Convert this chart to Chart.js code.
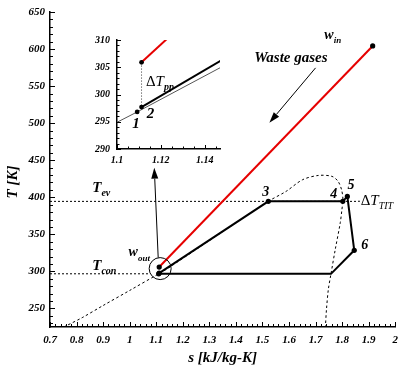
<!DOCTYPE html>
<html>
<head>
<meta charset="utf-8">
<script src="https://cdn.jsdelivr.net/npm/chart.js@4.4.0/dist/chart.umd.min.js"></script>
<style>
  html, body { margin: 0; padding: 0; background: #fff; }
  #wrap { position: relative; width: 405px; height: 365px; }
  #main { position: absolute; left: 0; top: 0; }
  #inset { position: absolute; left: 60px; top: 25px; }
</style>
</head>
<body>
<div id="wrap">
  <canvas id="main" width="405" height="365"></canvas>
  <canvas id="inset" width="170" height="150"></canvas>
</div>
<script>
// cycle state points 1..7 (s in kJ/kg-K, T in K)
const stateS = [1.1092, 1.1112, 1.522, 1.8026, 1.8196, 1.8456, 1.758];
const stateT = [296.8, 297.7, 394.5, 394.5, 401.2, 328.5, 296.7];

// waste gas stream: w_out -> w_in
const gasS = [1.1112, 1.915];
const gasT = [305.9, 604.2];

// saturation dome
const domeS = [0.752, 0.821, 0.9, 1.0, 1.1092, 1.147, 1.522, 1.589, 1.651, 1.711, 1.762, 1.785, 1.798, 1.803, 1.799, 1.793, 1.774, 1.758, 1.748, 1.741, 1.737];
const domeT = [225, 237.6, 254, 274.3, 296.8, 304.9, 394.5, 408, 423.7, 429.5, 428.2, 421.4, 410, 397, 383, 365.8, 329.4, 296.7, 275.5, 248.6, 225];

// evaporation / condensation temperatures
const Tev = 394.5;
const Tcon = 296.8;
const evLineS = [0.7, 1.867];
const conLineS = [0.7, 1.077];

const pts = (xs, ys) => xs.map((v, i) => ({ x: v, y: ys[i] }));
const pick = (idx) => idx.map(i => ({ x: stateS[i], y: stateT[i] }));

const heating = pick([1, 2, 3, 4]);        // 2-3-4-5
const rest = pick([4, 5, 6, 0, 1]);        // 5-6-7-1-2
const dots = pick([0, 1, 2, 3, 4, 5]).concat(pts(gasS, gasT));

const serif = '"Liberation Serif", "Times New Roman", serif';
const BI = (n) => 'bold italic ' + n + 'px ' + serif;
const IT = (n) => 'italic ' + n + 'px ' + serif;
const RG = (n) => n + 'px ' + serif;

function line(data, color, width, dash) {
  return { data: data, showLine: true, borderColor: color, borderWidth: width,
           borderDash: dash || [], pointRadius: 0, tension: 0, fill: false };
}

function richText(ctx, x, y, parts) {
  let cx = x;
  parts.forEach(([t, f, dy]) => {
    ctx.font = f;
    ctx.fillText(t, cx, y + (dy || 0));
    cx += ctx.measureText(t).width;
  });
}

function arrow(ctx, x1, y1, x2, y2) {
  const a = Math.atan2(y2 - y1, x2 - x1);
  const L = 11, W = 3.5;
  ctx.beginPath();
  ctx.moveTo(x1, y1);
  ctx.lineTo(x2 - L * Math.cos(a), y2 - L * Math.sin(a));
  ctx.stroke();
  ctx.beginPath();
  ctx.moveTo(x2, y2);
  ctx.lineTo(x2 - L * Math.cos(a) + W * Math.sin(a), y2 - L * Math.sin(a) - W * Math.cos(a));
  ctx.lineTo(x2 - L * Math.cos(a) - W * Math.sin(a), y2 - L * Math.sin(a) + W * Math.cos(a));
  ctx.closePath();
  ctx.fill();
}

function inwardTicks(chart, xs, ys, big, small) {
  const { ctx, chartArea: a, scales: { x, y } } = chart;
  ctx.save();
  ctx.strokeStyle = '#000';
  ctx.lineWidth = 1;
  ctx.beginPath();
  xs.forEach(([v, maj]) => {
    const p = Math.round(x.getPixelForValue(v)) + 0.5;
    ctx.moveTo(p, a.bottom);
    ctx.lineTo(p, a.bottom - (maj ? big : small));
  });
  ys.forEach(([v, maj]) => {
    const p = Math.round(y.getPixelForValue(v)) + 0.5;
    ctx.moveTo(a.left, p);
    ctx.lineTo(a.left + (maj ? big : small), p);
  });
  ctx.stroke();
  ctx.restore();
}

// text notes in data coordinates
const mainNotes = [
  { s: 1.733, T: 613.6, parts: [['w', BI(14)], ['in', BI(9), 4]] },
  { s: 1.607, T: 582.7, align: 'center', parts: [['Waste gases', BI(15)]] },
  { s: 1.512, T: 401.5, align: 'center', parts: [['3', BI(14)]] },
  { s: 1.768, T: 399.5, align: 'center', parts: [['4', BI(14)]] },
  { s: 1.833, T: 411, align: 'center', parts: [['5', BI(14)]] },
  { s: 1.885, T: 330.1, align: 'center', parts: [['6', BI(14)]] },
  { s: 1.870, T: 390, parts: [['\u0394', RG(15)], ['T', IT(15)], ['TIT', IT(10), 4]] },
  { s: 0.859, T: 407.5, parts: [['T', BI(15)], ['ev', BI(10), 4]] },
  { s: 0.859, T: 302.5, parts: [['T', BI(15)], ['con', BI(10), 4]] },
  { s: 0.996, T: 321.3, parts: [['w', BI(14)], ['out', BI(9), 5]] }
];
const gasArrow = [[1.700, 574.6], [1.526, 500.5]];
const zoomArrow = [[1.1074, 318.6], [1.0926, 439.9]];
const zoomCircle = { s: 1.1148, T: 303.8, r: 11 };

const insetNotes = [
  { s: 1.1132, T: 301.6, parts: [['\u0394', RG(15)], ['T', IT(15)], ['pp', BI(10), 4]] },
  { s: 1.1070, T: 293.9, parts: [['1', BI(15)]] },
  { s: 1.1136, T: 295.6, parts: [['2', BI(15)]] }
];

function drawNotes(chart, notes) {
  const { ctx, scales: { x, y } } = chart;
  ctx.save();
  ctx.fillStyle = '#000';
  ctx.textBaseline = 'alphabetic';
  notes.forEach(n => {
    let px = x.getPixelForValue(n.s);
    const py = y.getPixelForValue(n.T);
    if (n.align === 'center') {
      let w = 0;
      n.parts.forEach(([t, f]) => { ctx.font = f; w += ctx.measureText(t).width; });
      px -= w / 2;
    }
    ctx.textAlign = 'left';
    richText(ctx, px, py, n.parts);
  });
  ctx.restore();
}

const mainTicksX = [];
for (let i = 0; i <= 65; i++) mainTicksX.push([0.7 + i * 0.02, i % 5 === 0]);
const mainTicksY = [];
for (let v = 230; v <= 650; v += 10) mainTicksY.push([v, v % 50 === 0]);

const mainDecor = {
  id: 'mainDecor',
  afterDraw(chart) {
    const { ctx, scales: { x, y } } = chart;
    inwardTicks(chart, mainTicksX, mainTicksY, 5, 3);
    // y axis title
    ctx.save();
    ctx.fillStyle = '#000';
    ctx.font = BI(15);
    ctx.textAlign = 'center';
    ctx.textBaseline = 'middle';
    ctx.translate(13, 182);
    ctx.rotate(-Math.PI / 2);
    ctx.fillText('T [K]', 0, 0);
    ctx.restore();

    drawNotes(chart, mainNotes);

    ctx.save();
    ctx.strokeStyle = '#000';
    ctx.fillStyle = '#000';
    ctx.lineWidth = 1;
    const P = (p) => [x.getPixelForValue(p[0]), y.getPixelForValue(p[1])];
    let [a1, b1] = P(gasArrow[0]), [a2, b2] = P(gasArrow[1]);
    arrow(ctx, a1, b1, a2, b2);
    [a1, b1] = P(zoomArrow[0]); [a2, b2] = P(zoomArrow[1]);
    arrow(ctx, a1, b1, a2, b2);
    ctx.beginPath();
    ctx.arc(x.getPixelForValue(zoomCircle.s), y.getPixelForValue(zoomCircle.T), zoomCircle.r, 0, Math.PI * 2);
    ctx.stroke();
    ctx.restore();
  }
};

new Chart(document.getElementById('main'), {
  type: 'scatter',
  data: {
    datasets: [
      { data: dots, pointRadius: 2.6, pointBackgroundColor: '#000', pointBorderWidth: 0, showLine: false },
      line(pts(gasS, gasT), '#e60000', 2),
      line(heating, '#000', 2),
      line(rest, '#000', 2),
      Object.assign(line(pts(domeS, domeT), '#000', 1, [2.5, 2.5]), { tension: 0.3 }),
      line(pts(evLineS, [Tev, Tev]), '#000', 1, [2, 2]),
      line(pts(conLineS, [Tcon, Tcon]), '#000', 1, [2, 2])
    ]
  },
  options: {
    responsive: false,
    animation: false,
    layout: { padding: { top: 12, right: 4, left: 0, bottom: 0 } },
    plugins: { legend: { display: false }, tooltip: { enabled: false } },
    scales: {
      x: {
        type: 'linear', min: 0.7, max: 2,
        afterFit: (s) => { s.height = 38; },
        grid: { display: false, drawTicks: false, tickLength: 0 },
        border: { display: true, color: '#000', width: 1.5 },
        ticks: { stepSize: 0.1, includeBounds: false, autoSkip: false, maxRotation: 0, padding: 7,
                 color: '#000', font: { family: serif, size: 11, style: 'italic', weight: 'bold' },
                 callback: (v) => String(Math.round(v * 10) / 10) },
        title: { display: true, text: 's [kJ/kg-K]', color: '#000', padding: 0,
                 font: { family: serif, size: 15, style: 'italic', weight: 'bold', lineHeight: 0.9 } }
      },
      y: {
        type: 'linear', min: 225, max: 650,
        afterFit: (s) => { s.width = 50; },
        grid: { display: false, drawTicks: false, tickLength: 0 },
        border: { display: true, color: '#000', width: 1.5 },
        ticks: { stepSize: 50, includeBounds: false, autoSkip: false, padding: 5,
                 color: '#000', font: { family: serif, size: 11, style: 'italic', weight: 'bold' } }
      }
    }
  },
  plugins: [mainDecor]
});

// inset zoom around w_out / pinch point
const insetTicksX = [];
for (let i = 0; i <= 9; i++) insetTicksX.push([1.1 + i * 0.005, i % 4 === 0]);
const insetTicksY = [];
for (let v = 290; v <= 310; v += 1) insetTicksY.push([v, v % 5 === 0]);

const insetDecor = {
  id: 'insetDecor',
  afterDraw(chart) {
    inwardTicks(chart, insetTicksX, insetTicksY, 4, 2.5);
    drawNotes(chart, insetNotes);
  }
};

new Chart(document.getElementById('inset'), {
  type: 'scatter',
  data: {
    datasets: [
      { data: pick([0, 1]).concat([{ x: gasS[0], y: gasT[0] }]), pointRadius: 2.4,
        pointBackgroundColor: '#000', pointBorderWidth: 0, showLine: false },
      line(pts(gasS, gasT), '#e60000', 2),
      line(heating, '#000', 2),
      line(pts([gasS[0], stateS[1]], [gasT[0], stateT[1]]), '#777', 1, [1.5, 1.5]),
      line(pts(domeS, domeT), '#555', 1)
    ]
  },
  options: {
    responsive: false,
    animation: false,
    layout: { padding: { top: 15, right: 10, left: 0, bottom: 0 } },
    plugins: { legend: { display: false }, tooltip: { enabled: false } },
    scales: {
      x: {
        type: 'linear', min: 1.1, max: 1.147,
        afterFit: (s) => { s.height = 26; },
        grid: { display: false, drawTicks: false, tickLength: 0 },
        border: { display: true, color: '#000', width: 1.5 },
        ticks: { stepSize: 0.02, includeBounds: false, autoSkip: false, maxRotation: 0, padding: 5,
                 color: '#000', font: { family: serif, size: 10, style: 'italic', weight: 'bold' },
                 callback: (v) => String(Math.round(v * 100) / 100) }
      },
      y: {
        type: 'linear', min: 290, max: 310,
        afterFit: (s) => { s.width = 57; },
        grid: { display: false, drawTicks: false, tickLength: 0 },
        border: { display: true, color: '#000', width: 1.5 },
        ticks: { stepSize: 5, includeBounds: false, autoSkip: false, padding: 7,
                 color: '#000', font: { family: serif, size: 10, style: 'italic', weight: 'bold' } }
      }
    }
  },
  plugins: [insetDecor]
});
</script>
</body>
</html>
